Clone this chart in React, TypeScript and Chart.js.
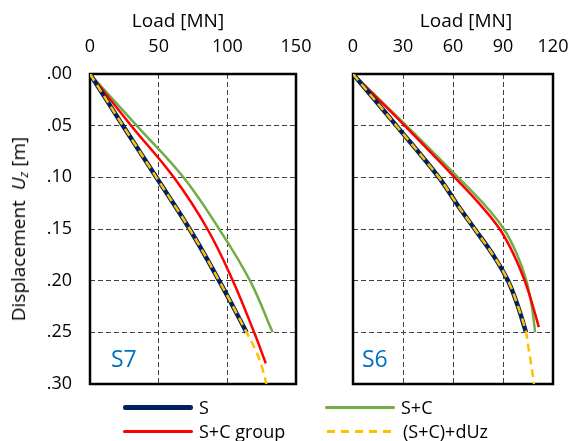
import React, { useEffect, useRef } from 'react';
import { Chart, registerables } from 'chart.js';

Chart.register(...registerables);

const FONT = "'Open Sans', 'DejaVu Sans', sans-serif";

// ---------- Panel S7 (load [MN] vs displacement Uz [m]) ----------
const S7_UZ_S = [0, 0.05, 0.10, 0.15, 0.20, 0.25];
const S7_LOAD_S = [0, 24, 48.3, 72.5, 94, 114];
const S7_UZ_SC = [0, 0.05, 0.10, 0.15, 0.20, 0.25];
const S7_LOAD_SC = [0, 34, 68, 94, 116.5, 133];
const S7_UZ_SCG = [0, 0.05, 0.10, 0.15, 0.20, 0.25, 0.28];
const S7_LOAD_SCG = [0, 30, 61, 85.5, 104, 119.5, 128];
const S7_UZ_DUZ = [0, 0.05, 0.10, 0.15, 0.20, 0.25, 0.27, 0.285, 0.30];
const S7_LOAD_DUZ = [0, 24, 48.3, 72.5, 94, 114, 121.5, 125.5, 128.5];

// ---------- Panel S6 ----------
const S6_UZ_S = [0, 0.05, 0.10, 0.125, 0.15, 0.175, 0.20, 0.225, 0.25];
const S6_LOAD_S = [0, 26, 51.5, 62, 73, 84, 93, 99, 103.8];
const S6_UZ_SC = [0, 0.05, 0.10, 0.125, 0.15, 0.175, 0.20, 0.225, 0.25];
const S6_LOAD_SC = [0, 32, 63, 78, 90.5, 98.5, 104, 107.3, 109.3];
const S6_UZ_SCG = [0, 0.05, 0.10, 0.125, 0.15, 0.175, 0.20, 0.225, 0.245];
const S6_LOAD_SCG = [0, 31, 61, 75.5, 88, 96.5, 103, 108, 111.5];
const S6_UZ_DUZ = [0, 0.05, 0.10, 0.125, 0.15, 0.175, 0.20, 0.225, 0.25, 0.265, 0.28, 0.30];
const S6_LOAD_DUZ = [0, 26, 51.5, 62, 73, 84, 93, 99, 103.8, 105.3, 106.8, 108.6];

// ---------- axes ----------
const UZ_TICKS = [0, 0.05, 0.1, 0.15, 0.2, 0.25, 0.3];
const S7_X_MAX = 150;
const S7_X_STEP = 50;
const S6_X_MAX = 120;
const S6_X_STEP = 30;

const SERIES_NAMES = ['S', 'S+C', 'S+C group', '(S+C)+dUz'];
const COLORS = { S: '#002060', SC: '#70AD47', SCG: '#FF0000', DUZ: '#FFC000' };

type Series = { label: string; loads: number[]; uz: number[]; color: string; width: number; dash?: number[] };

const toPoints = (loads: number[], uz: number[]) => loads.map((x, i) => ({ x, y: uz[i] }));

const boxPlugin = {
  id: 'boxBorder',
  beforeDatasetsDraw(chart: any) {
    const { ctx, chartArea: a } = chart;
    ctx.save();
    ctx.setLineDash([]);
    ctx.lineWidth = 2.5;
    ctx.strokeStyle = '#000';
    ctx.strokeRect(a.left, a.top, a.right - a.left, a.bottom - a.top);
    ctx.restore();
  },
};

function fmtUz(v: number) {
  const s = Number(v).toFixed(2);
  return s.startsWith('0') ? s.slice(1) : s;
}

const CANVAS_H = 420;
const PAD_BOTTOM = CANVAS_H - 384;

function Panel(props: {
  left: number;
  width: number;
  yWidth: number;
  padRight: number;
  xMax: number;
  xStep: number;
  showY: boolean;
  series: Series[];
}) {
  const ref = useRef<HTMLCanvasElement | null>(null);
  useEffect(() => {
    if (!ref.current) return;
    const gridCommon = { color: '#404040', lineWidth: 1, drawTicks: false };
    const chart = new Chart(ref.current, {
      type: 'line',
      data: {
        datasets: props.series.map((s) => ({
          label: s.label,
          data: toPoints(s.loads, s.uz),
          borderColor: s.color,
          backgroundColor: s.color,
          borderWidth: s.width,
          borderDash: s.dash || [],
          borderCapStyle: 'butt',
          pointRadius: 0,
          fill: false,
          tension: 0.4,
        })),
      },
      options: {
        responsive: false,
        animation: false,
        events: [],
        layout: { padding: { left: 0, top: 0, right: props.padRight, bottom: PAD_BOTTOM } },
        plugins: { legend: { display: false }, tooltip: { enabled: false }, title: { display: false } },
        scales: {
          x: {
            type: 'linear',
            position: 'top',
            min: 0,
            max: props.xMax,
            ticks: {
              stepSize: props.xStep,
              padding: 16,
              color: '#000',
              maxRotation: 0,
              autoSkip: false,
              font: { family: FONT, size: 18 },
            },
            grid: gridCommon,
            border: { display: false, dash: [5, 3] },
            afterFit: (s: any) => {
              s.height = 74;
            },
          },
          y: {
            type: 'linear',
            reverse: true,
            min: 0,
            max: 0.3,
            afterBuildTicks: (s: any) => {
              s.ticks = UZ_TICKS.map((v) => ({ value: v }));
            },
            ticks: {
              display: props.showY,
              padding: 18,
              color: '#000',
              font: { family: FONT, size: 18 },
              callback: (v: any) => fmtUz(v),
            },
            grid: gridCommon,
            border: { display: false, dash: [5, 3] },
            afterFit: (s: any) => {
              s.width = props.yWidth;
            },
          },
        },
      } as any,
      plugins: [boxPlugin],
    });
    return () => chart.destroy();
  }, []);
  return (
    <canvas
      ref={ref}
      width={props.width}
      height={CANVAS_H}
      style={{ position: 'absolute', left: props.left, top: 0, width: props.width, height: CANVAS_H }}
    />
  );
}

const s7Series: Series[] = [
  { label: SERIES_NAMES[3], loads: S7_LOAD_DUZ, uz: S7_UZ_DUZ, color: COLORS.DUZ, width: 2.5, dash: [8, 5] },
  { label: SERIES_NAMES[0], loads: S7_LOAD_S, uz: S7_UZ_S, color: COLORS.S, width: 4.5 },
  { label: SERIES_NAMES[2], loads: S7_LOAD_SCG, uz: S7_UZ_SCG, color: COLORS.SCG, width: 2.5 },
  { label: SERIES_NAMES[1], loads: S7_LOAD_SC, uz: S7_UZ_SC, color: COLORS.SC, width: 2.5 },
];

const s6Series: Series[] = [
  { label: SERIES_NAMES[3], loads: S6_LOAD_DUZ, uz: S6_UZ_DUZ, color: COLORS.DUZ, width: 2.5, dash: [8, 5] },
  { label: SERIES_NAMES[0], loads: S6_LOAD_S, uz: S6_UZ_S, color: COLORS.S, width: 4.5 },
  { label: SERIES_NAMES[2], loads: S6_LOAD_SCG, uz: S6_UZ_SCG, color: COLORS.SCG, width: 2.5 },
  { label: SERIES_NAMES[1], loads: S6_LOAD_SC, uz: S6_UZ_SC, color: COLORS.SC, width: 2.5 },
];

const textBase: React.CSSProperties = {
  position: 'absolute',
  fontFamily: FONT,
  color: '#000',
  whiteSpace: 'nowrap',
};

function LegendItem(props: { x: number; y: number; color: string; thick: number; dashed?: boolean; label: string }) {
  const lineStyle: React.CSSProperties = {
    position: 'absolute',
    left: props.x,
    top: props.y - props.thick / 2,
    width: 70,
    height: props.thick,
    background: props.dashed
      ? `repeating-linear-gradient(90deg, ${props.color} 0px, ${props.color} 8px, transparent 8px, transparent 14px)`
      : props.color,
    borderRadius: props.dashed ? 0 : props.thick / 2,
  };
  return (
    <>
      <div style={lineStyle} />
      <div style={{ ...textBase, left: props.x + 76, top: props.y - 9.6, fontSize: 18, lineHeight: '18px' }}>
        {props.label}
      </div>
    </>
  );
}

export default function App() {
  return (
    <div
      style={{
        position: 'fixed',
        left: 0,
        top: 0,
        width: 571,
        height: 441,
        background: '#fff',
        overflow: 'hidden',
      }}
    >
      <Panel left={0} width={336} yWidth={90} padRight={40} xMax={S7_X_MAX} xStep={S7_X_STEP} showY={true} series={s7Series} />
      <Panel left={300} width={293} yWidth={53} padRight={40} xMax={S6_X_MAX} xStep={S6_X_STEP} showY={false} series={s6Series} />

      <div style={{ ...textBase, left: 178, top: 20, transform: 'translate(-50%,-50%)', fontSize: 19 }}>Load [MN]</div>
      <div style={{ ...textBase, left: 466, top: 20, transform: 'translate(-50%,-50%)', fontSize: 19 }}>Load [MN]</div>

      <div
        style={{
          ...textBase,
          left: 17.5,
          top: 229,
          transform: 'translate(-50%,-50%) rotate(-90deg)',
          fontSize: 19,
          lineHeight: '22px',
        }}
      >
        Displacement&nbsp;&nbsp;<i>U</i>
        <sub style={{ fontSize: 13, verticalAlign: '-3px', lineHeight: 0 }}>
          <i>z</i>
        </sub>{' '}
        [m]
      </div>

      <div style={{ ...textBase, left: 111, top: 346.6, fontSize: 23, lineHeight: '23px', color: '#0070C0' }}>S7</div>
      <div style={{ ...textBase, left: 362, top: 346.6, fontSize: 23, lineHeight: '23px', color: '#0070C0' }}>S6</div>

      <LegendItem x={123} y={407.3} color={COLORS.S} thick={4.5} label={SERIES_NAMES[0]} />
      <LegendItem x={325} y={407.3} color={COLORS.SC} thick={3} label={SERIES_NAMES[1]} />
      <LegendItem x={123} y={431.7} color={COLORS.SCG} thick={3} label={SERIES_NAMES[2]} />
      <LegendItem x={327} y={431.7} color={COLORS.DUZ} thick={3} dashed label={SERIES_NAMES[3]} />
    </div>
  );
}
